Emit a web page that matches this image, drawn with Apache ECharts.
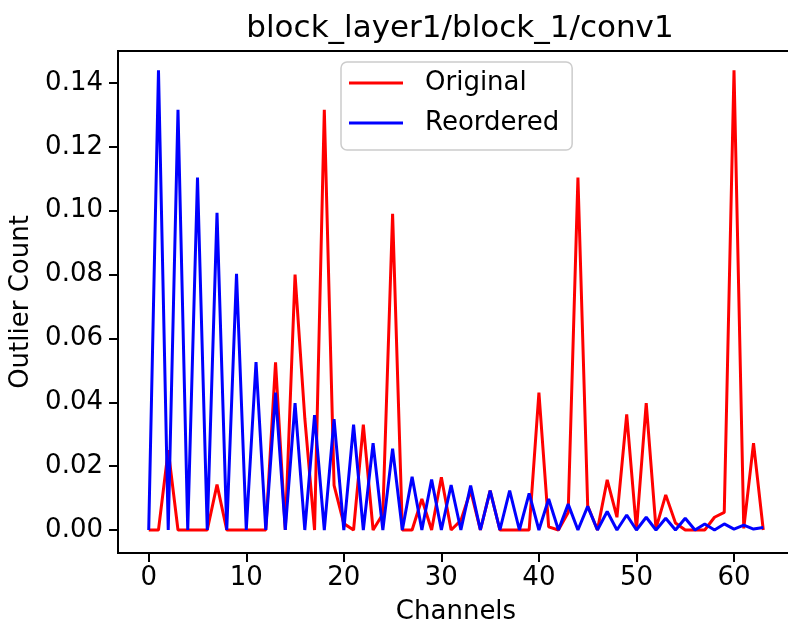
<!DOCTYPE html>
<html>
<head>
<meta charset="utf-8">
<script src="https://cdn.jsdelivr.net/npm/echarts@6/dist/echarts.min.js"></script>
<style>
html,body{margin:0;padding:0;background:#fff;}
#chart{width:788px;height:622px;}
</style>
</head>
<body>
<div id="chart"></div>
<script>
const titleText = 'block_layer1/block_1/conv1';
const xTicks = [0, 10, 20, 30, 40, 50, 60];
const yTicks = [0, 0.02, 0.04, 0.06, 0.08, 0.10, 0.12, 0.14];
const seriesNames = ['Original', 'Reordered'];
const original = [0, 0, 0.025, 0, 0, 0, 0, 0.0142, 0, 0,
  0, 0, 0, 0.0525, 0, 0.080, 0.035, 0, 0.1316, 0.014,
  0.002, 0, 0.033, 0, 0.005, 0.099, 0, 0, 0.0097, 0,
  0.0165, 0, 0.003, 0.0123, 0, 0.0123, 0, 0, 0, 0,
  0.043, 0.001, 0, 0.0055, 0.1104, 0.0076, 0, 0.0157, 0.004, 0.0362,
  0, 0.0397, 0.0005, 0.011, 0.0022, 0, 0, 0, 0.004, 0.0055,
  0.144, 0.0005, 0.0272, 0];
const reordered = [0, 0.144, 0, 0.1316, 0, 0.1104, 0, 0.0993, 0, 0.0802,
  0, 0.0526, 0, 0.043, 0, 0.0397, 0, 0.036, 0, 0.0347,
  0, 0.033, 0, 0.0272, 0, 0.0255, 0, 0.0167, 0, 0.0158,
  0, 0.0141, 0, 0.0139, 0, 0.0123, 0, 0.0123, 0, 0.0115,
  0, 0.0097, 0, 0.0081, 0, 0.0074, 0, 0.0058, 0, 0.0047,
  0, 0.004, 0, 0.0037, 0, 0.0037, 0, 0.0019, 0, 0.0019,
  0.0003, 0.0015, 0.0003, 0.0008];

const FONT = 'DejaVu Sans';
const toPairs = arr => arr.map((v, i) => [i, v]);

const chart = echarts.init(document.getElementById('chart'), null, {renderer: 'canvas'});
chart.setOption({
  animation: false,
  backgroundColor: '#fff',
  title: {
    text: titleText,
    left: 455,
    textAlign: 'center',
    top: 8,
    textStyle: {fontFamily: FONT, fontSize: 31, fontWeight: 'normal', color: '#000'}
  },
  legend: {
    data: seriesNames,
    orient: 'vertical',
    left: 341,
    top: 62,
    padding: [8, 13, 14, 8],
    itemGap: 14,
    itemWidth: 54,
    itemHeight: 3,
    icon: 'rect',
    backgroundColor: '#fff',
    borderColor: '#cccccc',
    borderWidth: 1.5,
    borderRadius: 6,
    textStyle: {fontFamily: FONT, fontSize: 26, color: '#000', padding: [0, 0, 0, 17]}
  },
  grid: {left: 118, top: 51, width: 676, height: 502, outerBoundsMode: 'none', containLabel: false,
    show: true, borderColor: '#000', borderWidth: 2, backgroundColor: 'transparent'},
  xAxis: {
    type: 'value',
    min: -3.15,
    max: 66.15,
    name: 'Channels',
    nameLocation: 'middle',
    nameGap: 46,
    nameTextStyle: {fontFamily: FONT, fontSize: 26, color: '#000'},
    axisLine: {show: true, onZero: false, lineStyle: {color: '#000', width: 2}},
    axisTick: {show: true, customValues: xTicks, length: 9, lineStyle: {color: '#000', width: 2}},
    axisLabel: {customValues: xTicks, fontFamily: FONT, fontSize: 26, color: '#000', margin: 12},
    splitLine: {show: false}
  },
  yAxis: {
    type: 'value',
    min: -0.0072,
    max: 0.15,
    name: 'Outlier Count',
    nameLocation: 'middle',
    nameGap: 80,
    nameTextStyle: {fontFamily: FONT, fontSize: 26, color: '#000'},
    axisLine: {show: true, onZero: false, lineStyle: {color: '#000', width: 2}},
    axisTick: {show: true, customValues: yTicks, length: 9, lineStyle: {color: '#000', width: 2}},
    axisLabel: {customValues: yTicks, fontFamily: FONT, fontSize: 26, color: '#000', margin: 15,
      formatter: v => Number(v).toFixed(2)},
    splitLine: {show: false}
  },
  series: [
    {name: seriesNames[0], type: 'line', data: toPairs(original), showSymbol: false, symbol: 'none',
     color: '#ff0000', lineStyle: {color: '#ff0000', width: 3}},
    {name: seriesNames[1], type: 'line', data: toPairs(reordered), showSymbol: false, symbol: 'none',
     color: '#0000ff', lineStyle: {color: '#0000ff', width: 3}}
  ]
});
</script>
</body>
</html>
